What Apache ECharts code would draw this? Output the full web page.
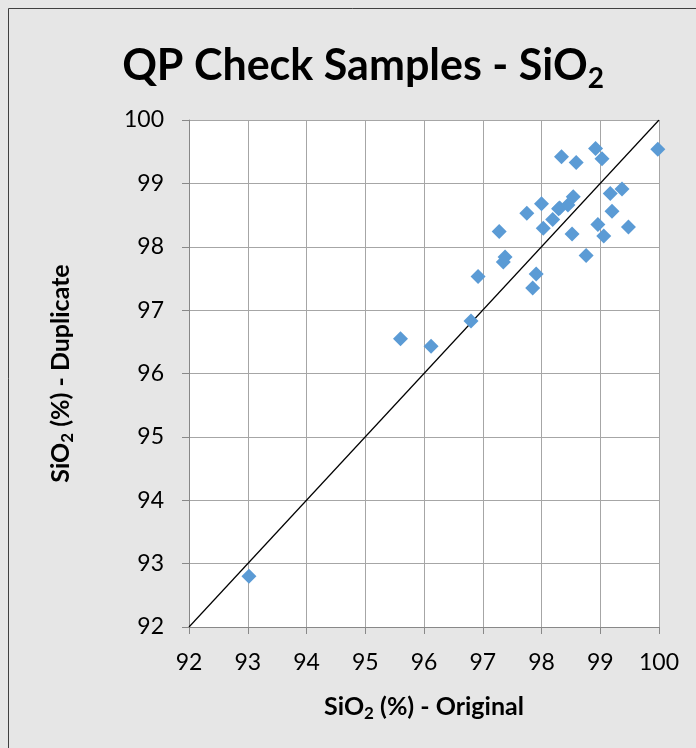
<!DOCTYPE html>
<html><head><meta charset="utf-8">
<script src="https://cdn.jsdelivr.net/npm/echarts@6/dist/echarts.min.js"></script>
<style>html,body{margin:0;padding:0;background:#e6e6e6}#c{width:696px;height:748px}</style>
</head><body><div id="c"></div>
<script>
const xTicks = [92, 93, 94, 95, 96, 97, 98, 99, 100];
const original = [93.02, 95.60, 96.12, 96.80, 96.92, 97.28, 97.35, 97.38, 97.75, 97.85, 97.91, 98.00, 98.03, 98.19, 98.29, 98.31, 98.34, 98.45, 98.52, 98.54, 98.59, 98.76, 98.92, 98.96, 99.03, 99.06, 99.17, 99.20, 99.37, 99.48, 99.98];
const duplicate = [92.80, 96.55, 96.43, 96.83, 97.53, 98.24, 97.76, 97.84, 98.53, 97.35, 97.57, 98.68, 98.29, 98.43, 98.60, 98.61, 99.42, 98.66, 98.20, 98.79, 99.33, 97.86, 99.55, 98.35, 99.39, 98.17, 98.84, 98.56, 98.91, 98.31, 99.54];
const lineX = [92, 100];
const lineY = [92, 100];

const font = 'Lato, "Open Sans", sans-serif';
const chart = echarts.init(document.getElementById('c'));
chart.setOption({
  backgroundColor: '#e6e6e6',
  animation: false,
  title: {
    text: 'QP Check Samples - SiO{sub|2}',
    left: 358, top: 34, textAlign: 'center',
    textStyle: {
      fontFamily: font, fontWeight: 'bold', fontSize: 43, color: '#000',
      rich: { sub: { fontFamily: font, fontWeight: 'bold', fontSize: 28, color: '#000', padding: [26, 0, 0, 0] } }
    }
  },
  graphic: [{
    type: 'rect', shape: { x: 8.5, y: 8.5, width: 700, height: 760 },
    style: { fill: null, stroke: '#404040', lineWidth: 1 }, silent: true
  }],
  grid: { left: 189, top: 120, right: 37, bottom: 121, backgroundColor: '#fff', show: true, borderWidth: 0 },
  xAxis: {
    type: 'value', min: 92, max: 100, interval: 1,
    name: 'SiO{sub|2} (%) - Original', nameLocation: 'middle', nameGap: 64,
    nameTextStyle: {
      fontFamily: font, fontWeight: 'bold', fontSize: 25, color: '#000',
      rich: { sub: { fontFamily: font, fontWeight: 'bold', fontSize: 17, color: '#000', padding: [14, 0, 0, 0] } }
    },
    axisLine: { onZero: false, lineStyle: { color: '#888', width: 1 } },
    axisTick: { show: true, length: 7, lineStyle: { color: '#888' } },
    axisLabel: { fontFamily: font, fontSize: 23, color: '#000', margin: 24,
      formatter: v => xTicks.includes(v) ? String(v) : '' },
    splitLine: { show: true, lineStyle: { color: '#a6a6a6', width: 1 } }
  },
  yAxis: {
    type: 'value', min: 92, max: 100, interval: 1,
    name: 'SiO{sub|2} (%) - Duplicate', nameLocation: 'middle', nameGap: 113, nameRotate: 90,
    nameTextStyle: {
      fontFamily: font, fontWeight: 'bold', fontSize: 25, color: '#000',
      rich: { sub: { fontFamily: font, fontWeight: 'bold', fontSize: 17, color: '#000', padding: [14, 0, 0, 0] } }
    },
    axisLine: { show: true, onZero: false, lineStyle: { color: '#888', width: 1 } },
    axisTick: { show: true, length: 7, lineStyle: { color: '#888' } },
    axisLabel: { fontFamily: font, fontSize: 23, color: '#000', margin: 25 },
    splitLine: { show: true, lineStyle: { color: '#a6a6a6', width: 1 } }
  },
  series: [
    {
      type: 'line', data: lineX.map((x, i) => [x, lineY[i]]), symbol: 'none',
      lineStyle: { color: '#000', width: 1.2 }, silent: true, z: 3
    },
    {
      type: 'scatter', data: original.map((x, i) => [x, duplicate[i]]),
      symbol: 'diamond', symbolSize: 15,
      itemStyle: { color: '#5b9bd5', opacity: 1 }, z: 4
    }
  ]
});
</script></body></html>
